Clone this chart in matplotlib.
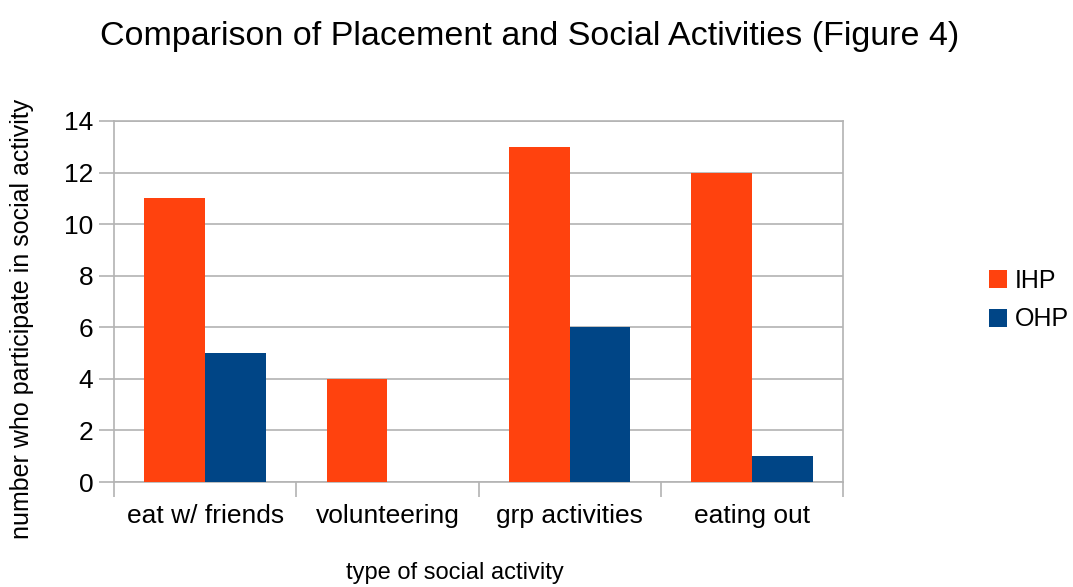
import matplotlib
matplotlib.use("Agg")
import matplotlib.pyplot as plt
import numpy as np

categories = ["eat w/ friends", "volunteering", "grp activities", "eating out"]
ihp = [11, 4, 13, 12]
ohp = [5, 0, 6, 1]
series_names = ["IHP", "OHP"]
y_ticks = [0, 2, 4, 6, 8, 10, 12, 14]

plt.rcParams["font.family"] = ["Liberation Sans", "DejaVu Sans"]

W, H = 1073, 587
fig = plt.figure(figsize=(W / 100, H / 100), dpi=100)
fig.patch.set_facecolor("white")

ax = fig.add_axes([114 / W, 1 - 482 / H, (843 - 114) / W, (482 - 121) / H])

x = np.arange(len(categories))
bw = 1 / 3
grid_col = "#b3b3b3"
b1 = ax.bar(x - bw / 2, ihp, width=bw, color="#ff420e", label=series_names[0], zorder=3)
b2 = ax.bar(x + bw / 2, ohp, width=bw, color="#004586", label=series_names[1], zorder=3)

ax.set_xlim(-0.5, len(categories) - 0.5)
ax.set_ylim(0, 14)
ax.set_yticks(y_ticks)
ax.set_yticklabels([str(v) for v in y_ticks], fontsize=19)
ax.set_xticks(x)
ax.set_xticklabels(categories, fontsize=19)
ax.set_xticks(np.arange(-0.5, len(categories)), minor=True)
ax.tick_params(axis="x", which="major", length=0, pad=16)
ax.tick_params(axis="x", which="minor", length=11, width=1.2, color=grid_col, direction="out")
ax.tick_params(axis="y", length=11, width=1.2, color=grid_col, pad=4)

ax.yaxis.grid(True, color=grid_col, linewidth=1.2, zorder=0)
ax.set_axisbelow(True)
for s in ax.spines.values():
    s.set_color(grid_col)
    s.set_linewidth(1.2)

fig.text(530 / W, 1 - 36 / H, "Comparison of Placement and Social Activities (Figure 4)",
         ha="center", va="center", fontsize=24.5)
fig.text(455 / W, 1 - 573 / H, "type of social activity",
         ha="center", va="center", fontsize=17)
fig.text(22 / W, 1 - 319 / H, "number who participate in social activity",
         ha="center", va="center", rotation=90, fontsize=18)

fig.legend(handles=[b1, b2], labels=series_names, loc="center left",
           bbox_to_anchor=(966 / W, 1 - 300 / H), frameon=False, fontsize=18,
           handlelength=0.75, handleheight=0.75, handletextpad=0.3, labelspacing=0.6)

fig.savefig("out.png", dpi=100, facecolor="white")
